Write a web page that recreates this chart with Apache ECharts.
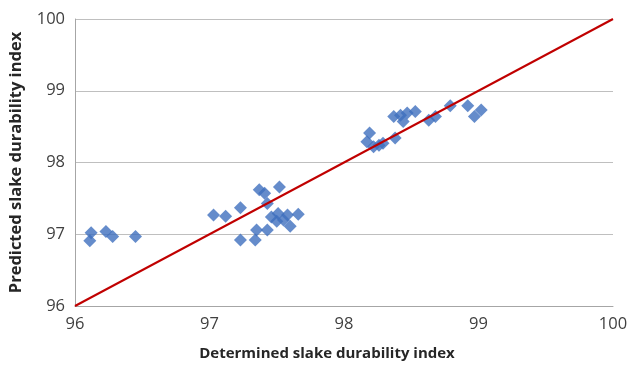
<!DOCTYPE html>
<html><head><meta charset="utf-8">
<script src="https://cdn.jsdelivr.net/npm/echarts@6/dist/echarts.min.js"></script>
<style>html,body{margin:0;padding:0;background:#fff}#c{width:633px;height:368px}</style>
</head><body><div id="c"></div>
<script>
var determined = [96.12,96.11,96.23,96.28,96.45,
  97.03,97.12,97.23,97.37,97.41,97.43,97.52,97.23,97.34,97.35,97.43,97.46,97.51,97.55,97.60,97.66,97.58,97.50,
  98.19,98.17,98.22,98.26,98.29,98.38,98.37,98.42,98.44,98.47,98.53,98.63,98.68,98.79,98.92,98.97,99.02];
var predicted = [97.02,96.91,97.04,96.97,96.97,
  97.27,97.25,97.37,97.62,97.57,97.43,97.66,96.92,96.92,97.06,97.06,97.24,97.29,97.20,97.11,97.28,97.27,97.18,
  98.41,98.29,98.22,98.24,98.27,98.34,98.64,98.66,98.57,98.69,98.71,98.59,98.64,98.79,98.79,98.64,98.73];
var lineX = [96,100];
var lineY = [96,100];
var ticks = [96,97,98,99,100];

var pts = determined.map(function(d,i){return [d,predicted[i]];});
var ln = lineX.map(function(d,i){return [d,lineY[i]];});
var font = "'Open Sans', 'Noto Sans', sans-serif";
var chart = echarts.init(document.getElementById('c'));
chart.setOption({
  animation:false,
  grid:{left:75,right:20,top:19,bottom:62},
  xAxis:{type:'value',min:96,max:100,interval:1,
    name:'Determined slake durability index',nameLocation:'middle',nameGap:40,
    nameTextStyle:{fontFamily:font,fontSize:15,fontWeight:'bold',color:'#262626',padding:[0,34,0,0]},
    axisLine:{show:true,lineStyle:{color:'#A6A6A6',width:1}},axisTick:{show:false},
    splitLine:{show:false},
    axisLabel:{fontFamily:font,fontSize:16.5,color:'#404040',margin:10}},
  yAxis:{type:'value',min:96,max:100,interval:1,
    name:'Predicted slake durability index',nameLocation:'middle',nameGap:50,
    nameTextStyle:{fontFamily:font,fontSize:16.5,fontWeight:'bold',color:'#262626'},
    axisLine:{show:true,lineStyle:{color:'#A6A6A6',width:1}},axisTick:{show:false},
    splitLine:{show:true,lineStyle:{color:'#BFBFBF',width:1}},
    axisLabel:{fontFamily:font,fontSize:16.5,color:'#404040',margin:10}},
  series:[
    {type:'line',data:ln,symbol:'none',lineStyle:{color:'#C00000',width:2},z:3},
    {type:'scatter',data:pts,symbol:'diamond',symbolSize:13,itemStyle:{color:'#3E6FBE'},z:2}
  ]
});
</script></body></html>
